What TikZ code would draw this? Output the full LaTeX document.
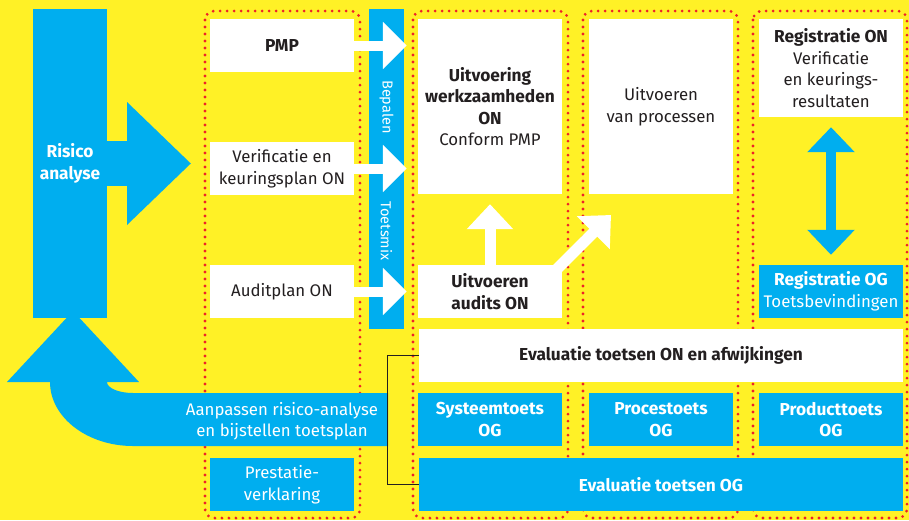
\documentclass[tikz,border=0pt]{standalone}
\usepackage{fontspec}
\setmainfont{Fira Sans}
\usetikzlibrary{arrows.meta}
\definecolor{bgyellow}{RGB}{255,241,38}
\definecolor{ablue}{RGB}{0,174,239}
\definecolor{dotred}{RGB}{238,34,40}
\definecolor{ink}{RGB}{35,31,32}
% bold label text, set slightly larger than the body text
\newcommand\hb[1]{{\fontsize{17.3}{21.5}\selectfont\bfseries #1}}
\begin{document}
\begin{tikzpicture}[x=1pt,y=-1pt,
  every node/.style={font=\fontsize{16.8}{21.5}\selectfont, align=center, inner sep=0pt},
  wbox/.style={fill=white, text=ink, minimum width=144pt, minimum height=53pt},
  bbox/.style={fill=ablue, text=white, minimum width=144pt, minimum height=53pt},
  widebox/.style={minimum width=484pt, minimum height=53pt},
  dotbox/.style={draw=dotred, line width=3.1pt, line cap=round, dash pattern=on 0pt off 7pt, rounded corners=9pt},
  warrow/.style={draw=white, line width=10pt, -{Triangle[width=46pt,length=24pt]}, shorten >=11pt},
  uparrow/.style={draw=white, line width=11pt, -{Triangle[width=45pt,length=25pt]}},
  dblarrow/.style={draw=ablue, line width=10pt, {Triangle[width=46pt,length=25pt]}-{Triangle[width=46pt,length=25pt]}, shorten <=10pt, shorten >=10pt},
  bigarrow/.style={draw=ablue, line width=45pt, -{Triangle[width=119pt,length=64pt]}},
  bracket/.style={draw=ink, line width=1.2pt},
  sidetext/.style={text=white, rotate=-90, font=\fontsize{14.5}{17}\selectfont}
]
% page
\fill[bgyellow] (0,0) rectangle (909,520);
\useasboundingbox (0,0) rectangle (909,520);

% dotted column frames
\draw[dotbox] (205,11) rectangle (360,518);
\draw[dotbox] (413,11) rectangle (568,518);
\draw[dotbox] (583,11) rectangle (738,518);
\draw[dotbox] (753,11) rectangle (907,518);

% risk analysis bar and its arrow into the plans
\node[fill=ablue, text=white, minimum width=74pt, minimum height=309pt] (risk) at (70,163.5)
  {\hb{Risico}\\\hb{analyse}};
\coordinate (plantip) at (191,163.5);
\draw[bigarrow] (risk.east) -- (plantip);

% feedback arrow back to the risk analysis
\fill[ablue] (7,382) -- (73,311) -- (139,382) -- (107,382)
  .. controls (107,388) and (118.6,393) .. (133,393)
  -- (388,393) -- (388,446) -- (133,446)
  .. controls (87.2,446) and (50,417.3) .. (50,382) -- cycle;
\node[text=white] (adjust) at (282,421) {Aanpassen risico-analyse\\en bijstellen toetsplan};

% test mix bar
\node[fill=ablue, minimum width=35pt, minimum height=320pt] (tmix) at (386.5,169) {};
\node[sidetext] (bepalen) at (386.5,107) {Bepalen};
\node[sidetext] (toetsmix) at (386.5,231) {Toetsmix};

% plans
\node[wbox] (pmp) at (282,45.5) {\hb{PMP}};
\node[wbox] (verif) at (282,168.5) {Verificatie en\\keuringsplan ON};
\node[wbox] (audit) at (282,291.5) {Auditplan ON};
\node[bbox] (prest) at (282,484.5) {Prestatie-\\verklaring};

% execution
\node[wbox, minimum height=175pt] (uitv) at (490,106.5)
  {\hb{Uitvoering}\\\hb{werkzaamheden}\\\hb{ON}\\Conform PMP};
\node[wbox, minimum height=175pt] (procs) at (661,106.5) {Uitvoeren\\van processen};
\node[wbox, minimum height=98pt] (regon) at (831,68)
  {\hb{Registratie ON}\\Verificatie\\en keurings-\\resultaten};
\node[wbox] (audits) at (490,291.5) {\hb{Uitvoeren}\\\hb{audits ON}};
\node[bbox] (regog) at (831,291.5) {\hb{Registratie OG}\\Toetsbevindingen};

% evaluation
\node[wbox, widebox] (evalon) at (661,355.5) {\hb{Evaluatie toetsen ON en afwijkingen}};
\node[bbox] (sys) at (490,419.5) {\hb{Systeemtoets}\\\hb{OG}};
\node[bbox] (proc) at (661,419.5) {\hb{Procestoets}\\\hb{OG}};
\node[bbox] (prod) at (831,419.5) {\hb{Producttoets}\\\hb{OG}};
\node[bbox, widebox] (evalog) at (661,484.5) {\hb{Evaluatie toetsen OG}};

% connectors
\draw[warrow] (pmp.east) -- (pmp.east -| uitv.west);
\draw[warrow] (verif.east) -- (verif.east -| uitv.west);
\draw[warrow] (audit.east) -- (audit.east -| audits.west);
\draw[uparrow, shorten >=10pt] (audits.north) -- (uitv.south);
\coordinate (diagstart) at (552,274);
\coordinate (diagtip) at (611,215);
\draw[uparrow] (diagstart) -- (diagtip);
\draw[dblarrow] (regon.south) -- (regog.north);
\draw[bracket] (evalon.west) -- ++(-31,0) |- (evalog.west);
\end{tikzpicture}
\end{document}
